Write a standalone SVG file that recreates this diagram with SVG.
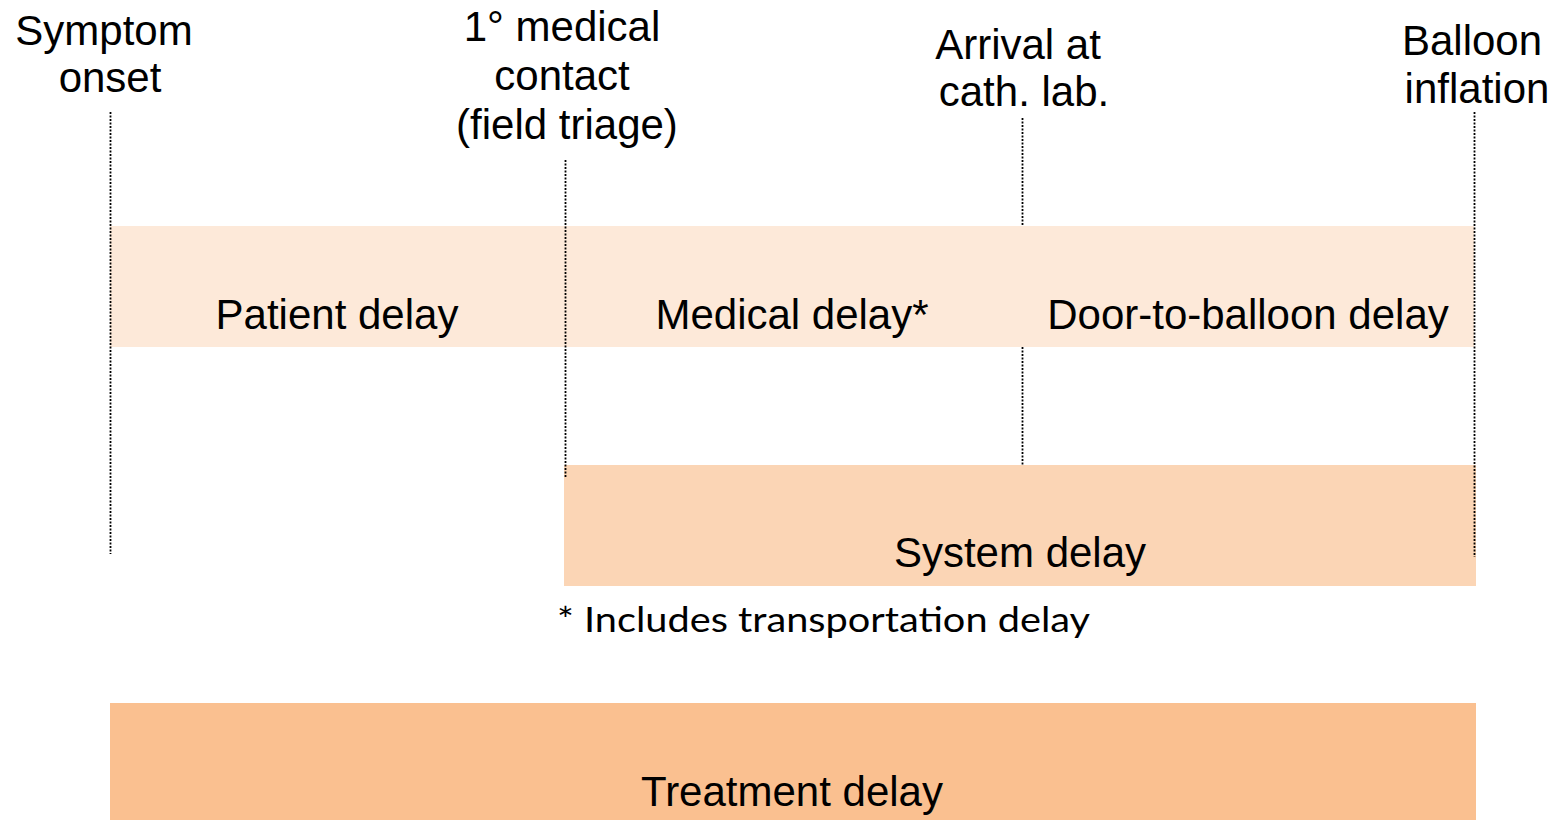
<svg xmlns="http://www.w3.org/2000/svg" width="1560" height="820" viewBox="0 0 1560 820">
<style>
.lbl{font-family:"Liberation Sans",Arial,sans-serif;font-size:42px;fill:#000;text-anchor:middle}
.note{font-family:Lato,"Open Sans",sans-serif;font-size:35px;fill:#000}
.dot{stroke:#000;stroke-width:1.8;stroke-dasharray:2 1.5;fill:none}
</style>
<rect width="1560" height="820" fill="#fff"/>
<g id="bands">
<rect id="band-top" x="110" y="226" width="1364" height="121" fill="#FDE9D9"/>
<rect id="band-system" x="564" y="465" width="912" height="121" fill="#FBD5B5"/>
<rect id="band-treatment" x="110" y="703" width="1366" height="117" fill="#FAC090"/>
</g>
<g id="connectors">
<line class="dot" x1="110.5" y1="112" x2="110.5" y2="554"/>
<line class="dot" x1="565.5" y1="160" x2="565.5" y2="478"/>
<line class="dot" x1="1022.5" y1="118" x2="1022.5" y2="226"/>
<line class="dot" x1="1022.5" y1="347" x2="1022.5" y2="465"/>
<line class="dot" x1="1474.5" y1="112" x2="1474.5" y2="557"/>
</g>
<g id="symptom-onset"><text class="lbl" x="104" y="45">Symptom</text><text class="lbl" x="110" y="92">onset</text></g>
<g id="medical-contact"><text class="lbl" x="562" y="41">1° medical</text><text class="lbl" x="562" y="90">contact</text><text class="lbl" x="567" y="139">(field triage)</text></g>
<g id="arrival"><text class="lbl" x="1018" y="59">Arrival at</text><text class="lbl" x="1024" y="106">cath. lab.</text></g>
<g id="balloon"><text class="lbl" x="1472" y="55">Balloon</text><text class="lbl" x="1477" y="103">inflation</text></g>
<g id="patient-delay"><text class="lbl" x="337" y="329">Patient delay</text></g>
<g id="medical-delay"><text class="lbl" x="792" y="329">Medical delay*</text></g>
<g id="door-to-balloon"><text class="lbl" x="1248" y="329">Door-to-balloon delay</text></g>
<g id="system-delay"><text class="lbl" x="1020" y="567">System delay</text></g>
<g id="footnote"><text class="note" x="557" y="632" textLength="533" lengthAdjust="spacingAndGlyphs">* Includes transportation delay</text></g>
<g id="treatment-delay"><text class="lbl" x="792" y="806">Treatment delay</text></g>
</svg>
